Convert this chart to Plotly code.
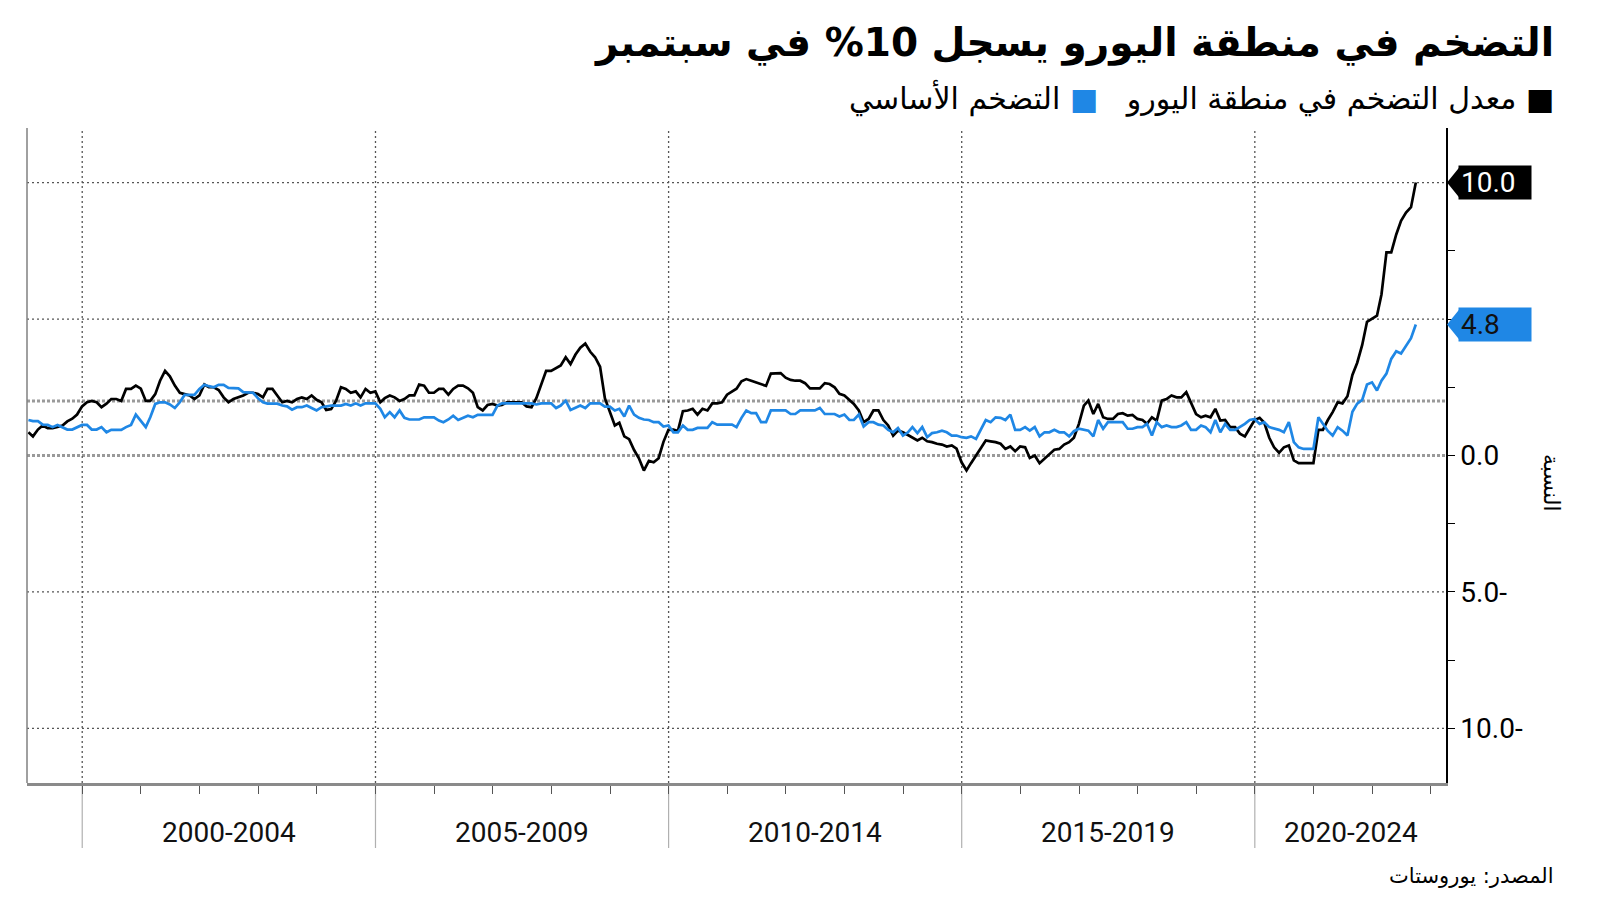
import pandas as pd
import plotly.graph_objects as go

# ---------------- data (monthly, Jan 1999 .. Sep 2022) ----------------
series_names = ["معدل التضخم في منطقة اليورو", "التضخم الأساسي"]

headline = [
    0.85, 0.7, 0.95, 1.1, 1.0, 1.0, 1.05, 1.1, 1.25, 1.35, 1.5, 1.8,        # 1999
    1.95, 2.0, 1.95, 1.77, 1.9, 2.07, 2.07, 2.0, 2.44, 2.44, 2.56, 2.45,    # 2000
    2.0, 2.0, 2.25, 2.74, 3.1, 2.9, 2.56, 2.3, 2.25, 2.2, 2.07, 2.2,        # 2001
    2.6, 2.5, 2.5, 2.4, 2.13, 1.95, 2.07, 2.13, 2.2, 2.3, 2.3, 2.25,        # 2002
    2.13, 2.44, 2.44, 2.2, 1.95, 2.0, 1.95, 2.07, 2.13, 2.07, 2.2, 2.04,    # 2003
    1.95, 1.67, 1.7, 2.0, 2.5, 2.44, 2.3, 2.35, 2.13, 2.44, 2.3, 2.35,      # 2004
    1.95, 2.1, 2.2, 2.13, 2.0, 2.07, 2.2, 2.2, 2.6, 2.56, 2.3, 2.3,         # 2005
    2.44, 2.44, 2.23, 2.44, 2.56, 2.56, 2.46, 2.3, 1.77, 1.65, 1.85, 1.89,  # 2006
    1.83, 1.85, 1.95, 1.95, 1.95, 1.95, 1.8, 1.77, 2.1, 2.6, 3.1, 3.1,      # 2007
    3.2, 3.3, 3.6, 3.35, 3.7, 3.95, 4.1, 3.8, 3.6, 3.25, 2.1, 1.6,          # 2008
    1.1, 1.2, 0.7, 0.6, 0.2, -0.1, -0.55, -0.2, -0.25, -0.1, 0.5, 0.94,     # 2009
    0.95, 0.9, 1.62, 1.65, 1.71, 1.5, 1.71, 1.65, 1.91, 1.91, 1.95, 2.23,   # 2010
    2.35, 2.45, 2.72, 2.8, 2.74, 2.68, 2.59, 2.55, 3.0, 3.02, 3.02, 2.85,   # 2011
    2.77, 2.74, 2.74, 2.65, 2.46, 2.46, 2.46, 2.65, 2.62, 2.5, 2.26, 2.2,   # 2012
    2.04, 1.89, 1.65, 1.22, 1.34, 1.65, 1.65, 1.3, 1.1, 0.73, 0.91, 0.85,   # 2013
    0.75, 0.65, 0.55, 0.65, 0.52, 0.49, 0.43, 0.4, 0.33, 0.37, 0.25, -0.25, # 2014
    -0.55, -0.28, 0.0, 0.25, 0.55, 0.52, 0.49, 0.43, 0.24, 0.33, 0.16, 0.33,  # 2015
    0.3, -0.09, 0.0, -0.28, -0.12, 0.06, 0.21, 0.24, 0.4, 0.49, 0.65, 1.16,   # 2016
    1.83, 2.01, 1.52, 1.89, 1.4, 1.34, 1.34, 1.52, 1.55, 1.46, 1.49, 1.34,    # 2017
    1.3, 1.16, 1.4, 1.28, 2.01, 2.07, 2.2, 2.13, 2.13, 2.32, 1.95, 1.52,      # 2018
    1.4, 1.46, 1.4, 1.71, 1.28, 1.3, 1.04, 1.04, 0.8, 0.7, 1.0, 1.3,          # 2019
    1.38, 1.2, 0.65, 0.3, 0.1, 0.3, 0.37, -0.18, -0.28, -0.28, -0.28, -0.28,  # 2020
    0.94, 0.94, 1.3, 1.59, 1.95, 1.91, 2.17, 2.95, 3.4, 4.05, 4.9, 5.0,       # 2021
    5.12, 5.9, 7.44, 7.44, 8.1, 8.6, 8.9, 9.1, 10.0,                          # 2022
]

core = [
    1.3, 1.26, 1.26, 1.13, 1.12, 1.04, 1.12, 1.04, 0.95, 0.95, 1.04, 1.12,  # 1999
    1.12, 0.95, 0.95, 1.04, 0.85, 0.94, 0.94, 0.94, 1.04, 1.12, 1.5, 1.28,  # 2000
    1.04, 1.4, 1.89, 1.95, 1.95, 1.87, 1.74, 1.95, 2.22, 2.22, 2.22, 2.44,  # 2001
    2.59, 2.54, 2.5, 2.59, 2.59, 2.48, 2.46, 2.46, 2.32, 2.32, 2.3, 2.1,    # 2002
    1.95, 1.9, 1.9, 1.9, 1.83, 1.8, 1.68, 1.77, 1.77, 1.83, 1.74, 1.65,     # 2003
    1.77, 1.8, 1.83, 1.83, 1.83, 1.89, 1.83, 1.91, 1.83, 1.91, 1.91, 1.91, # 2004
    1.71, 1.4, 1.59, 1.4, 1.65, 1.38, 1.32, 1.32, 1.32, 1.4, 1.4, 1.4,      # 2005
    1.28, 1.22, 1.32, 1.46, 1.3, 1.38, 1.46, 1.4, 1.49, 1.49, 1.49, 1.49,   # 2006
    1.83, 1.91, 1.91, 1.91, 1.91, 1.91, 1.91, 1.91, 1.87, 1.91, 1.91, 1.91, # 2007
    1.74, 1.83, 2.01, 1.67, 1.75, 1.83, 1.74, 1.91, 1.91, 1.91, 1.79, 1.79, # 2008
    1.65, 1.71, 1.43, 1.83, 1.5, 1.38, 1.32, 1.3, 1.22, 1.22, 1.06, 1.1,    # 2009
    0.85, 0.85, 1.1, 0.94, 0.94, 1.01, 1.01, 1.01, 1.22, 1.13, 1.13, 1.13,  # 2010
    1.13, 1.04, 1.38, 1.65, 1.55, 1.55, 1.22, 1.22, 1.65, 1.65, 1.65, 1.65, # 2011
    1.52, 1.52, 1.65, 1.65, 1.65, 1.65, 1.74, 1.52, 1.52, 1.52, 1.43, 1.5,  # 2012
    1.3, 1.3, 1.5, 1.06, 1.22, 1.22, 1.13, 1.1, 0.94, 0.85, 1.01, 0.73,     # 2013
    0.85, 1.04, 0.82, 1.04, 0.67, 0.82, 0.85, 0.91, 0.85, 0.73, 0.73, 0.67, # 2014
    0.65, 0.7, 0.61, 0.98, 1.3, 1.22, 1.4, 1.38, 1.3, 1.5, 0.94, 0.94,      # 2015
    1.04, 0.91, 1.04, 0.7, 0.85, 0.85, 0.94, 0.85, 0.85, 0.7, 0.89, 0.98,   # 2016
    0.94, 0.91, 0.7, 1.3, 0.98, 1.22, 1.22, 1.22, 1.22, 0.98, 0.98, 1.04,   # 2017
    1.04, 1.16, 0.73, 1.22, 1.04, 1.1, 1.04, 1.04, 1.1, 1.22, 0.94, 0.94,   # 2018
    1.1, 1.04, 0.85, 1.3, 0.85, 1.16, 0.94, 0.94, 1.04, 1.16, 1.3, 1.34,    # 2019
    1.16, 1.22, 1.04, 0.98, 0.94, 0.85, 1.22, 0.49, 0.3, 0.24, 0.24, 0.24,  # 2020
    1.4, 1.16, 0.9, 0.73, 1.04, 0.91, 0.73, 1.6, 1.9, 2.04, 2.6, 2.68,      # 2021
    2.38, 2.74, 3.0, 3.54, 3.82, 3.74, 4.0, 4.3, 4.8,                       # 2022
]

period_labels = ["2000-2004", "2005-2009", "2010-2014", "2015-2019", "2020-2024"]
period_start_years = [2000, 2005, 2010, 2015, 2020]
tick_years = list(range(2000, 2024))

y_tick_vals = [-10, -5, 0]
y_tick_text = ["10.0-", "5.0-", "0.0"]
y_minor_vals = [-7.5, -2.5, 2.5, 5, 7.5, 10]
fine_grid_levels = [10, 5, -5, -10]
bold_grid_levels = [2, 0]

title_text = "التضخم في منطقة اليورو يسجل 10% في سبتمبر"
source_text = "المصدر: يوروستات"
y_title_text = "النسبة"

X_MIN, X_MAX = "1999-01-22", "2023-04-06"
Y_MIN, Y_MAX = -12, 12

BLACK = "#000000"
BLUE = "#1f87e5"
AR_FONT = "DejaVu Sans"
NUM_FONT = "Roboto"

# ---------------- geometry helpers (page px -> figure/paper) ----------------
OFF = 8                      # page body margin around the figure
W, H = 1600 - 2 * OFF, 901 - 2 * OFF
L, R, T, B = 19, 146, 120, 110
PW, PH = W - L - R, H - T - B


def px_x(px):
    return (px - OFF - L) / PW


def px_y(py):
    return (H - B - (py - OFF)) / PH


def frac_year(ts):
    ts = pd.Timestamp(ts)
    return ts.year + (ts.dayofyear - 1) / 365.25


def to_ts(fy):
    y = int(fy)
    return pd.Timestamp(year=y, month=1, day=1) + pd.Timedelta(days=(fy - y) * 365.25)


dates = pd.date_range("1999-01-01", periods=len(headline), freq="MS") + pd.offsets.MonthEnd(0)
core_dates = pd.date_range("1999-01-01", periods=len(core), freq="MS") + pd.offsets.MonthEnd(0)

fig = go.Figure()
fig.add_trace(go.Scatter(x=dates, y=headline, mode="lines", name=series_names[0],
                         line=dict(color=BLACK, width=2.7), hoverinfo="skip"))
fig.add_trace(go.Scatter(x=core_dates, y=core, mode="lines", name=series_names[1],
                         line=dict(color=BLUE, width=2.7), hoverinfo="skip"))

shapes = []
for v in fine_grid_levels:
    shapes.append(dict(type="line", xref="paper", yref="y", x0=0, x1=1, y0=v, y1=v,
                       line=dict(color="#555555", width=1.3, dash="2px,3px"), layer="below"))
for v in bold_grid_levels:
    shapes.append(dict(type="line", xref="paper", yref="y", x0=0, x1=1, y0=v, y1=v,
                       line=dict(color="#9a9a9a", width=3, dash="3px,2px"), layer="below"))
for yr in period_start_years:
    d = pd.Timestamp(year=yr, month=1, day=1)
    shapes.append(dict(type="line", xref="x", yref="paper", x0=d, x1=d, y0=0, y1=1,
                       line=dict(color="#555555", width=1.3, dash="2px,3px"), layer="below"))
    shapes.append(dict(type="line", xref="x", yref="paper", x0=d, x1=d, y0=0, y1=px_y(848),
                       line=dict(color="#b0b0b0", width=1.2), layer="below"))
shapes.append(dict(type="line", xref="paper", yref="paper", x0=0, x1=0, y0=0, y1=1,
                   line=dict(color="#808080", width=1.5)))

annotations = []
xmin_fy, xmax_fy = frac_year(X_MIN), frac_year(X_MAX)
for lab, yr in zip(period_labels, period_start_years):
    a, b = max(yr, xmin_fy), min(yr + 5, xmax_fy)
    annotations.append(dict(x=to_ts((a + b) / 2), xref="x", y=px_y(832), yref="paper",
                            text=lab, showarrow=False, xanchor="center", yanchor="middle",
                            font=dict(family=NUM_FONT, size=28, color="#111111")))

half = 16 / (PH / (Y_MAX - Y_MIN))
for vals, bg, fg in [(headline, BLACK, "#ffffff"), (core, BLUE, "#111111")]:
    last = vals[-1]
    annotations.append(dict(x=1, xref="paper", y=last, yref="y", xanchor="left", yanchor="middle",
                            xshift=12, text=f"{last:.1f}", showarrow=False, bgcolor=bg,
                            width=68, height=29, align="left", borderpad=2,
                            font=dict(family=NUM_FONT, size=28, color=fg)))
    xt, xb = px_x(1447), px_x(1460)
    shapes.append(dict(type="path", xref="paper", yref="y",
                       path=f"M {xt},{last} L {xb},{last + half} L {xb},{last - half} Z",
                       fillcolor=bg, line=dict(width=0)))

annotations.append(dict(x=px_x(1556), y=px_y(43), xref="paper", yref="paper", text="<b>" + title_text + "</b>",
                        showarrow=False, xanchor="right", yanchor="middle",
                        font=dict(family=AR_FONT, size=39, color="#000000")))
legend_text = ("<span style='color:#000000'>\u200F■ " + series_names[0] + "\u00A0\u00A0 </span>"
               "<span style='color:" + BLUE + "'>■</span><span style='color:#000000'> " +
               series_names[1] + "</span>")
annotations.append(dict(x=px_x(1556), y=px_y(98), xref="paper", yref="paper", text=legend_text,
                        showarrow=False, xanchor="right", yanchor="middle",
                        font=dict(family=AR_FONT, size=30, color="#000000")))
annotations.append(dict(x=px_x(1556), y=px_y(876), xref="paper", yref="paper", text=source_text,
                        showarrow=False, xanchor="right", yanchor="middle",
                        font=dict(family=AR_FONT, size=21, color="#000000")))
annotations.append(dict(x=px_x(1552), y=px_y(483), xref="paper", yref="paper", text=y_title_text,
                        showarrow=False, xanchor="center", yanchor="middle", textangle=90,
                        font=dict(family=AR_FONT, size=22, color="#000000")))

fig.update_layout(
    width=W, height=H,
    margin=dict(l=L, r=R, t=T, b=B, pad=0),
    paper_bgcolor="white", plot_bgcolor="white",
    showlegend=False,
    shapes=shapes, annotations=annotations,
    xaxis=dict(type="date", range=[X_MIN, X_MAX], showgrid=False, zeroline=False,
               showline=True, linecolor="#8a8a8a", linewidth=3,
               tickmode="array", tickvals=[pd.Timestamp(year=y, month=1, day=1) for y in tick_years],
               ticks="outside", ticklen=8, tickwidth=1.3, tickcolor="#555555",
               showticklabels=False, fixedrange=True),
    yaxis=dict(side="right", range=[Y_MIN, Y_MAX], showgrid=False, zeroline=False,
               showline=True, linecolor="#000000", linewidth=1.5,
               tickmode="array", tickvals=y_tick_vals, ticktext=y_tick_text,
               ticks="outside", ticklen=7, tickwidth=1.3, tickcolor="#000000",
               minor=dict(tickmode="array", tickvals=y_minor_vals, ticks="outside",
                          ticklen=7, tickwidth=1.3, tickcolor="#000000", showgrid=False),
               tickfont=dict(family=NUM_FONT, size=28, color="#000000"), fixedrange=True),
)

fig.write_html("out.html")
